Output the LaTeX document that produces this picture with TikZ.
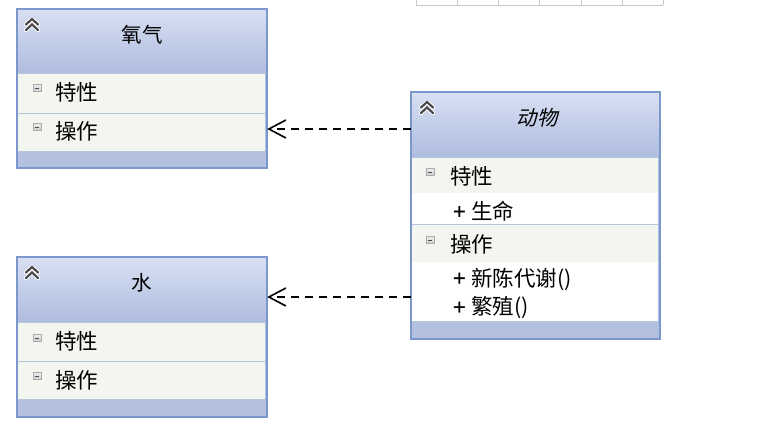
\documentclass[tikz,border=0pt]{standalone}
\usepackage{fontspec}
\setmainfont{Noto Sans CJK SC}
\newfontfamily\cjkit[FakeSlant=0.22]{Noto Sans CJK SC}
\usetikzlibrary{arrows.meta,calc}
\definecolor{bordc}{HTML}{7B97CC}
\definecolor{headtop}{HTML}{D7DFF2}
\definecolor{headbot}{HTML}{AEBCDF}
\definecolor{rowbg}{HTML}{F3F6EE}
\definecolor{sepc}{HTML}{B8C5E0}
\definecolor{footc}{HTML}{B3C0DF}
\definecolor{tablec}{HTML}{C8C8C8}
\definecolor{iconc}{HTML}{4A4A4A}
\tikzset{
  classbox/.style={draw=bordc, line width=1.2pt, fill=footc, inner sep=0pt, anchor=north west},
  headband/.style={top color=headtop, bottom color=headbot, draw=none},
  rowband/.style={fill=rowbg, draw=none},
  whiteband/.style={fill=white, draw=none},
  sepline/.style={draw=sepc, line width=1pt},
  titletext/.style={font=\fontsize{20.5}{20.5}\selectfont, text=black},
  rowtext/.style={font=\fontsize{21.5}{21.5}\selectfont, text=black, anchor=west, inner sep=0pt},
  minusicon/.style={draw=gray!65, top color=gray!15, bottom color=gray!40, line width=0.6pt, minimum width=8pt, minimum height=7pt, inner sep=0pt},
  chev/.style={draw=iconc, line width=2.2pt, line cap=round, line join=miter},
  chevhalo/.style={draw=white, line width=4pt, line cap=round, line join=round},
  dep/.style={draw=black, line width=1.6pt, dash pattern=on 8pt off 6pt, -{Straight Barb[length=17pt, width=18pt, line width=1.6pt]}},
  tabline/.style={draw=tablec, line width=1pt}
}
\newcommand{\minusico}[1]{%
  \node[minusicon] at (#1) {};
  \draw[iconc, line width=1pt] ($(#1)+(-2.3,0)$) -- ($(#1)+(2.3,0)$);}
\newcommand{\chevico}[1]{%
  \draw[chevhalo] ($(#1)+(-6,0.5)$) -- ($(#1)+(0,-5)$) -- ($(#1)+(6,0.5)$);
  \draw[chevhalo] ($(#1)+(-6,6)$) -- ($(#1)+(0,0.5)$) -- ($(#1)+(6,6)$);
  \draw[chev] ($(#1)+(-6,0.5)$) -- ($(#1)+(0,-5)$) -- ($(#1)+(6,0.5)$);
  \draw[chev] ($(#1)+(-6,6)$) -- ($(#1)+(0,0.5)$) -- ($(#1)+(6,6)$);}
\newcommand{\plusmark}{\raisebox{2.5pt}{\fontspec{DejaVu Sans}[FakeBold=1.5]\fontsize{17}{17}\selectfont +}\hspace{5pt}}
\begin{document}
\begin{tikzpicture}[x=1pt,y=-1pt]
\useasboundingbox[fill=white] (0,0) rectangle (765,442);
% table fragment at top
\draw[tabline] (416,5) -- (663,5);
\foreach \xx in {416,457,498,539,581,622,663} \draw[tabline] (\xx,0) -- (\xx,5);

% ===== Oxygen =====
\node[classbox, minimum width=249pt, minimum height=158pt] (oxy) at (17,9) {};
\fill[headband] (17.6,9.6) rectangle (265.4,73);
\fill[rowband] (17.6,73) rectangle (265.4,151);
\draw[sepline] (17.6,73) -- (265.4,73);
\draw[sepline] (17.6,113) -- (265.4,113);
\draw[sepline] (17.6,151) -- (265.4,151);
\draw[bordc, line width=1.2pt] (oxy.north west) rectangle (oxy.south east);
\chevico{32,24}
\node[titletext] (oxyt) at (142,35) {氧气};
\minusico{37,88}
\node[rowtext] (oxya) at (55,92) {特性};
\minusico{37,127}
\node[rowtext] (oxyo) at (55,131) {操作};

% ===== Water =====
\node[classbox, minimum width=249pt, minimum height=159pt] (wat) at (17,257) {};
\fill[headband] (17.6,257.6) rectangle (265.4,322);
\fill[rowband] (17.6,322) rectangle (265.4,399);
\draw[sepline] (17.6,322) -- (265.4,322);
\draw[sepline] (17.6,361) -- (265.4,361);
\draw[sepline] (17.6,399) -- (265.4,399);
\draw[bordc, line width=1.2pt] (wat.north west) rectangle (wat.south east);
\chevico{32,272}
\node[titletext] (watt) at (142,283) {水};
\minusico{37,338}
\node[rowtext] (wata) at (55,341) {特性};
\minusico{37,376}
\node[rowtext] (wato) at (55,380) {操作};

% ===== Animal =====
\node[classbox, minimum width=248pt, minimum height=246pt] (ani) at (411,92) {};
\fill[headband] (411.6,92.6) rectangle (658.4,157);
\fill[rowband] (411.6,157) rectangle (658.4,193);
\fill[whiteband] (411.6,193) rectangle (658.4,224);
\fill[rowband] (411.6,224) rectangle (658.4,262);
\fill[whiteband] (411.6,262) rectangle (658.4,321);
\draw[sepline] (411.6,157) -- (658.4,157);
\draw[sepline] (411.6,224) -- (658.4,224);
\draw[sepline] (411.6,321) -- (658.4,321);
\draw[bordc, line width=1.2pt] (ani.north west) rectangle (ani.south east);
\chevico{427,107}
\node[titletext, font=\fontsize{20.5}{20.5}\cjkit] (anit) at (537,118) {动物};
\minusico{430,172}
\node[rowtext] (ania) at (450,176) {特性};
\node[rowtext] (anil) at (452,211) {\plusmark 生命};
\minusico{430,240}
\node[rowtext] (anio) at (450,244) {操作};
\node[rowtext] (anim) at (452,279) {\plusmark 新陈代谢()};
\node[rowtext] (anir) at (452,308) {\plusmark 繁殖()};

% ===== Dependencies =====
\coordinate (d1) at (411,129);
\coordinate (d2) at (411,297);
\draw[dep] (d1) -- (d1 -| oxy.east);
\draw[dep] (d2) -- (d2 -| wat.east);
\end{tikzpicture}
\end{document}
